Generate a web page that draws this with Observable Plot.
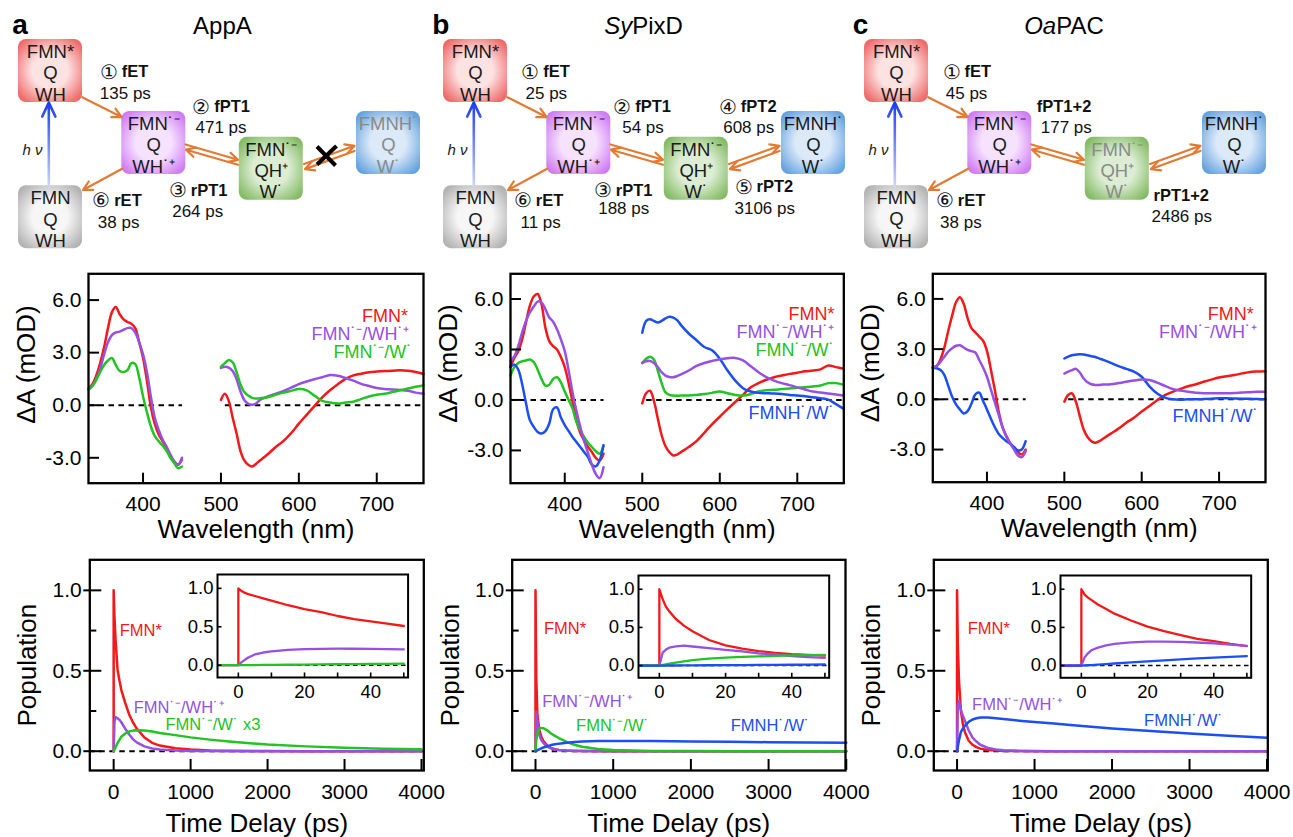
<!DOCTYPE html>
<html>
<head>
<meta charset="utf-8">
<script src="https://cdn.jsdelivr.net/npm/d3@7"></script>
<script src="https://cdn.jsdelivr.net/npm/@observablehq/plot@0.6"></script>
<style>
  html, body { margin: 0; padding: 0; background: #fff; }
  #fig { position: relative; width: 1293px; height: 837px; overflow: hidden; background: #fff; }
</style>
</head>
<body>
<div id="fig"></div>
<script>
const FONT = "'Liberation Sans', Arial, Helvetica, sans-serif";
const C = {red: "#f41818", purple: "#9650e6", green: "#22c322", blue: "#1b4ef5"};
const ORANGE = "#e47a32";

// ================= Spectra data (ΔA, mOD) =================
const wlUV = [330,335,340,345,350,355,360,365,370,375,380,385,390,395,400,405,410,415,420,425,430,435,440,445,450];
const wlVis = [500,505,510,515,520,525,530,535,540,545,550,560,570,580,590,600,610,620,630,640,650,660,670,680,690,700,710,720,730,740,750,760];
const specXTicks = [400, 500, 600, 700];
const specYTicks = [-3, 0, 3, 6];
const specZeroSegs = [[330, 450], [505, 760]];

// AppA
const redA_uv    = [0.95,1.2,1.7,2.4,3.3,4.4,5.3,5.6,5.2,4.9,4.75,4.65,4.4,3.6,2.7,1.4,-0.1,-1.05,-1.65,-2.05,-2.45,-2.9,-3.2,-3.4,-3.1];
const purpleA_uv = [0.9,1.1,1.5,2.1,2.9,3.6,4.0,4.15,4.2,4.3,4.4,4.4,4.15,3.6,2.9,1.9,0.5,-0.7,-1.4,-1.95,-2.35,-2.8,-3.2,-3.4,-3.0];
const greenA_uv  = [0.9,1.1,1.45,1.9,2.3,2.55,2.7,2.3,1.95,1.9,2.0,2.4,2.35,1.6,0.5,-0.4,-1.2,-1.75,-2.05,-2.3,-2.6,-3.0,-3.3,-3.6,-3.5];
const redA_vis    = [0.3,0.65,0.25,-0.7,-1.6,-2.6,-3.15,-3.4,-3.5,-3.35,-3.15,-2.8,-2.4,-2.05,-1.6,-1.05,-0.55,-0.05,0.45,0.85,1.2,1.5,1.7,1.8,1.88,1.92,1.95,1.97,2.0,1.97,1.9,1.78];
const purpleA_vis = [2.13,2.2,2.15,1.95,1.5,0.8,0.3,0.08,0.03,0.1,0.3,0.5,0.65,0.8,1.0,1.2,1.35,1.48,1.6,1.72,1.68,1.55,1.4,1.22,1.1,0.98,0.92,0.9,0.87,0.82,0.72,0.65];
const greenA_vis  = [2.2,2.4,2.58,2.45,1.9,1.2,0.75,0.55,0.42,0.38,0.4,0.46,0.6,0.72,0.82,0.92,0.85,0.55,0.25,0.15,0.1,0.15,0.2,0.35,0.5,0.6,0.65,0.75,0.85,0.95,1.05,1.12];

// SyPixD
const redB_uv    = [2.0,2.5,2.9,3.6,4.6,5.6,6.15,6.3,5.7,4.3,3.5,3.2,3.0,2.55,1.95,1.0,-0.1,-1.2,-1.95,-2.4,-2.8,-3.1,-3.45,-3.6,-3.2];
const purpleB_uv = [2.3,2.6,3.2,4.0,4.7,5.2,5.55,5.85,5.8,5.4,4.9,4.65,4.2,3.6,2.9,1.75,0.45,-0.65,-1.6,-2.45,-3.15,-3.85,-4.4,-4.65,-4.0];
const greenB_uv  = [1.45,1.95,2.2,2.3,2.35,2.4,2.25,1.8,1.25,0.85,0.9,1.25,1.35,1.05,0.5,0.0,-0.5,-1.3,-1.8,-2.2,-2.55,-2.8,-3.05,-3.2,-2.7];
const blueB_uv   = [1.95,2.1,1.8,0.95,-0.2,-1.2,-1.6,-1.9,-2.0,-1.85,-1.4,-0.55,-0.45,-1.05,-1.5,-1.85,-2.2,-2.5,-2.8,-3.1,-3.4,-3.85,-3.95,-3.6,-2.7];
const redB_vis    = [-0.2,0.4,0.55,-0.05,-1.1,-2.1,-2.75,-3.1,-3.3,-3.25,-3.1,-2.8,-2.45,-1.95,-1.45,-1.0,-0.55,-0.12,0.3,0.75,1.0,1.2,1.35,1.45,1.55,1.62,1.7,1.75,1.82,2.05,1.95,1.85];
const purpleB_vis = [2.2,2.3,2.32,2.2,1.95,1.65,1.45,1.36,1.35,1.42,1.52,1.75,2.02,2.2,2.32,2.42,2.48,2.5,2.35,2.0,1.65,1.36,1.15,1.0,0.88,0.75,0.62,0.5,0.44,0.38,0.32,0.26];
const greenB_vis  = [2.2,2.45,2.57,2.4,1.75,1.0,0.45,0.3,0.26,0.25,0.26,0.26,0.3,0.35,0.42,0.5,0.4,0.3,0.26,0.35,0.5,0.58,0.6,0.65,0.68,0.72,0.76,0.8,0.86,1.0,1.0,0.9];
const blueB_vis   = [4.0,4.7,4.8,4.7,4.6,4.7,4.85,4.95,4.9,4.75,4.45,3.95,3.55,3.15,2.95,2.45,1.75,1.15,0.7,0.5,0.42,0.4,0.38,0.35,0.3,0.26,0.22,0.16,0.1,0.02,-0.25,-0.53];

// OaPAC
const redC_uv    = [1.9,2.0,2.4,3.1,4.1,5.0,5.8,6.1,5.7,4.85,4.25,4.0,3.75,3.5,2.9,1.8,0.6,-0.7,-1.65,-2.2,-2.6,-2.9,-3.15,-3.3,-3.0];
const purpleC_uv = [1.9,2.0,2.25,2.55,2.85,3.05,3.2,3.23,3.1,2.95,2.88,2.8,2.35,1.9,1.35,0.6,-0.15,-0.9,-1.65,-2.2,-2.65,-3.0,-3.35,-3.45,-3.1];
const blueC_uv   = [1.9,1.85,1.75,1.45,0.8,0.15,-0.3,-0.6,-0.85,-0.7,-0.25,0.3,0.4,-0.1,-0.6,-1.15,-1.65,-2.05,-2.3,-2.5,-2.65,-2.85,-3.05,-3.0,-2.5];
const redC_vis    = [-0.14,0.26,0.35,-0.15,-1.0,-1.8,-2.25,-2.5,-2.6,-2.5,-2.35,-2.05,-1.75,-1.4,-1.1,-0.73,-0.4,-0.05,0.25,0.45,0.62,0.78,0.9,1.05,1.18,1.3,1.38,1.45,1.55,1.64,1.66,1.68];
const purpleC_vis = [1.54,1.65,1.75,1.82,1.6,1.25,1.02,0.9,0.86,0.86,0.88,0.9,0.97,1.05,1.12,1.18,1.15,1.0,0.8,0.62,0.52,0.45,0.4,0.37,0.36,0.36,0.36,0.38,0.41,0.43,0.45,0.46];
const blueC_vis   = [2.44,2.55,2.63,2.67,2.7,2.68,2.63,2.58,2.53,2.45,2.36,2.18,1.98,1.82,1.66,1.35,0.78,0.35,0.1,0.0,-0.02,0.0,0.0,0.02,0.04,0.06,0.06,0.05,0.04,0.03,0.02,0.0];

// ================= Population data =================
const tMain  = [0,0,10,25,50,75,100,150,200,250,300,400,500,600,800,1000,1250,1500,2000,2500,3000,3500,4000];
const tInset = [-6,0,0,1,2,3,5,7.5,10,15,20,25,30,35,40,45,50];
const popXTicks = [0, 1000, 2000, 3000, 4000];
const popYMajor = [0, 0.5, 1];
const popYMinor = [0.25, 0.75];
const insXTicks = [0, 10, 20, 30, 40, 50];
const insXLabels = [0, 20, 40];
const insYTicks = [0, 0.5, 1];

const popA_red    = [0,1,0.84,0.69,0.51,0.44,0.38,0.3,0.23,0.18,0.14,0.085,0.052,0.035,0.018,0.01,0.005,0.003,0.001,0,0,0,0];
const popA_purple = [0,0,0.18,0.213,0.205,0.195,0.18,0.14,0.105,0.075,0.055,0.03,0.017,0.011,0.005,0.002,0.001,0,0,0,0,0,0];
const popA_green3 = [0,0,0.009,0.025,0.05,0.07,0.09,0.11,0.122,0.128,0.13,0.128,0.123,0.113,0.1,0.086,0.072,0.06,0.041,0.03,0.021,0.016,0.012];
const popB_red    = [0,1,0.45,0.222,0.13,0.09,0.065,0.035,0.02,0.012,0.008,0.004,0.002,0.001,0,0,0,0,0,0,0,0,0];
const popB_purple = [0,0,0.245,0.18,0.1,0.07,0.052,0.028,0.017,0.011,0.008,0.004,0.003,0.002,0.001,0,0,0,0,0,0,0,0];
const popB_green  = [0,0,0.07,0.113,0.14,0.145,0.143,0.13,0.11,0.095,0.082,0.058,0.04,0.028,0.014,0.008,0.004,0.002,0.001,0,0,0,0];
const popB_blue   = [0,0,0.002,0.006,0.012,0.018,0.023,0.031,0.038,0.043,0.047,0.052,0.057,0.06,0.063,0.064,0.064,0.063,0.061,0.059,0.056,0.054,0.052];
const popC_red    = [0,1,0.66,0.44,0.25,0.17,0.12,0.065,0.04,0.025,0.016,0.007,0.004,0.002,0.001,0,0,0,0,0,0,0,0];
const popC_purple = [0,0,0.285,0.313,0.255,0.22,0.19,0.13,0.085,0.06,0.04,0.02,0.01,0.006,0.002,0.001,0,0,0,0,0,0,0];
const popC_blue   = [0,0,0.027,0.069,0.12,0.14,0.158,0.182,0.197,0.205,0.21,0.21,0.205,0.2,0.19,0.182,0.172,0.162,0.141,0.125,0.11,0.096,0.083];

const insA_red    = [0,0,1,0.965,0.94,0.925,0.9,0.87,0.84,0.78,0.73,0.69,0.64,0.6,0.57,0.54,0.51];
const insA_purple = [0,0,0,0.04,0.07,0.1,0.14,0.165,0.18,0.2,0.21,0.213,0.215,0.214,0.212,0.208,0.205];
const insA_green  = [0,0,0,0.0005,0.001,0.0015,0.002,0.003,0.004,0.006,0.008,0.01,0.012,0.014,0.016,0.018,0.02];
const insB_red    = [0,0,1,0.87,0.77,0.71,0.61,0.52,0.45,0.335,0.265,0.222,0.19,0.165,0.15,0.14,0.13];
const insB_purple = [0,0,0,0.17,0.21,0.235,0.252,0.26,0.25,0.228,0.205,0.185,0.16,0.145,0.125,0.112,0.1];
const insB_green  = [0,0,0,0.008,0.017,0.026,0.04,0.056,0.07,0.09,0.104,0.113,0.12,0.127,0.133,0.137,0.14];
const insB_blue   = [0,0,0,0,0,0.001,0.001,0.002,0.002,0.004,0.005,0.007,0.008,0.01,0.011,0.013,0.014];
const insC_red    = [0,0,1,0.93,0.89,0.86,0.8,0.74,0.68,0.59,0.51,0.45,0.4,0.35,0.32,0.285,0.255];
const insC_purple = [0,0,0,0.11,0.16,0.2,0.235,0.265,0.285,0.305,0.314,0.315,0.31,0.302,0.29,0.275,0.258];
const insC_blue   = [0,0,0,0.002,0.004,0.006,0.012,0.019,0.027,0.042,0.056,0.069,0.082,0.093,0.104,0.115,0.125];

// ================= Text labels =================
const L_FMNS = "FMN*", L_PUR = "FMN˙⁻/WH˙⁺", L_GRN = "FMN˙⁻/W˙", L_BLU = "FMNH˙/W˙";
const specLabelsA = [{x:740,y:5.1,t:L_FMNS,c:C.red},{x:742,y:4.06,t:L_PUR,c:C.purple},{x:745.7,y:3.02,t:L_GRN,c:C.green}];
const specLabelsB = [{x:748,y:5.11,t:L_FMNS,c:C.red},{x:748,y:4.02,t:L_PUR,c:C.purple},{x:748,y:2.93,t:L_GRN,c:C.green},{x:748,y:-0.8,t:L_BLU,c:C.blue}];
const specLabelsC = [{x:744.7,y:5.11,t:L_FMNS,c:C.red},{x:749,y:4.02,t:L_PUR,c:C.purple},{x:751,y:-1.03,t:L_BLU,c:C.blue}];
const popLabelsA = [{x:78,y:0.75,t:L_FMNS,c:C.red},{x:261,y:0.27,t:L_PUR,c:C.purple},{x:674,y:0.166,t:L_GRN + " x3",c:C.green}];
const popLabelsB = [{x:109,y:0.76,t:L_FMNS,c:C.red},{x:87,y:0.305,t:L_PUR,c:C.purple},{x:522,y:0.16,t:L_GRN,c:C.green},{x:2513,y:0.156,t:L_BLU,c:C.blue}];
const popLabelsC = [{x:138,y:0.76,t:L_FMNS,c:C.red},{x:194,y:0.29,t:L_PUR,c:C.purple},{x:2414,y:0.19,t:L_BLU,c:C.blue}];

// ================= Scheme (diagram) data, panel-relative units =================
const schemeNodes = [
  {key:"red",    cx:50,    cy:70.5,  lines:"FMN*\nQ\nWH"},
  {key:"purple", cx:153.3, cy:142.5, lines:"FMN˙⁻\nQ\nWH˙⁺"},
  {key:"green",  cx:270.8, cy:168.3, lines:"FMN˙⁻\nQH⁺\nW˙"},
  {key:"blue",   cx:388,   cy:142.5, lines:"FMNH˙\nQ\nW˙"},
  {key:"gray",   cx:50,    cy:216.7, lines:"FMN\nQ\nWH"}
];
const boxGradients = [["red","#fde2e2","#ef6a6a"],["purple","#f6e2fd","#cf7cf4"],["green","#dcedd3","#84bb64"],["blue","#dbe9f9","#66a3de"],["gray","#f6f6f6","#b3b3b3"]];
const schemeArrows = [
  {x1:81.7, y1:96.7,  x2:121,   y2:116.5},
  {x1:121.7,y1:168.3, x2:82.5,  y2:189.5},
  {x1:185,  y1:144,   x2:237.5, y2:159.3},
  {x1:237.5,y1:164.3, x2:185.5, y2:149.2},
  {x1:303.5,y1:163.5, x2:354,   y2:145.3},
  {x1:354,  y1:150.5, x2:304.5, y2:168.6}
];
const hvArrow = [{x1:48.3, y1:186, x2:48.3, y2:102}];
const crossMark = [{x1:316.5,y1:146,x2:335,y2:165},{x1:316.5,y1:164,x2:336,y2:145.5}];
const schemeLabelsA = [
  {x:99.3, y:71.7, n:"①", name:"fET",  tx:99.3,  ty:93.3,  time:"135 ps"},
  {x:191.7,y:106.7,n:"②", name:"fPT1", tx:195,   ty:126.7, time:"471 ps"},
  {x:168.3,y:190,  n:"③", name:"rPT1", tx:171.7, ty:210.7, time:"264 ps"},
  {x:91.7, y:200,  n:"⑥", name:"rET",  tx:97.3,  ty:221.7, time:"38 ps"}
];
const schemeLabelsB = [
  {x:95.7, y:71.7, n:"①", name:"fET",  tx:100,   ty:93.3,  time:"25 ps"},
  {x:187.7,y:106.7,n:"②", name:"fPT1", tx:196.7, ty:127.3, time:"54 ps"},
  {x:293.3,y:106.7,n:"④", name:"fPT2", tx:297.7, ty:127.3, time:"608 ps"},
  {x:168.3,y:190,  n:"③", name:"rPT1", tx:172.7, ty:208.3, time:"188 ps"},
  {x:309,  y:186.7,n:"⑤", name:"rPT2", tx:309,   ty:208.3, time:"3106 ps"},
  {x:88.3, y:200,  n:"⑥", name:"rET",  tx:95,    ty:221.7, time:"11 ps"}
];
const schemeLabelsC = [
  {x:96,   y:71.7, n:"①", name:"fET",    tx:99.3,  ty:93.3,  time:"45 ps"},
  {x:190.3,y:106.7,n:"",  name:"fPT1+2", tx:194.3, ty:127.3, time:"177 ps"},
  {x:307,  y:195,  n:"",  name:"rPT1+2", tx:305,   ty:216,   time:"2486 ps"},
  {x:89.3, y:200,  n:"⑥", name:"rET",    tx:93.6,  ty:221.7, time:"38 ps"}
];

// ================= Rendering =================
const fig = document.getElementById("fig");
function put(svg, left, top) {
  svg.style.position = "absolute";
  svg.style.left = left + "px";
  svg.style.top = top + "px";
  fig.appendChild(svg);
}
const baseStyle = {background: "transparent", overflow: "visible", fontFamily: FONT, maxWidth: "none", color: "#000"};

function spectraPlot(P) {
  const top = 250, height = 300, mT = 23.3;
  const fw = P.width - P.mL - P.mR, fh = height - mT - P.mB;
  const marks = [
    Plot.link(specZeroSegs, {x1: d => d[0], x2: d => d[1], y1: () => 0, y2: () => 0, stroke: "#000", strokeWidth: 2, strokeDasharray: "5.5,4.5"})
  ];
  for (const s of P.series) {
    const rows = wlUV.map((w, i) => ({x: w, y: s.uv[i], seg: 0}))
      .concat(wlVis.map((w, i) => ({x: w, y: s.vis[i], seg: 1})));
    marks.push(Plot.line(rows, {x: "x", y: "y", z: "seg", stroke: s.color, strokeWidth: 2.5, curve: "catmull-rom"}));
  }
  marks.push(
    Plot.ruleX(specXTicks, {x: d => d, insetTop: fh - 10, stroke: "#000", strokeWidth: 2}),
    Plot.ruleY(specYTicks, {y: d => d, insetRight: fw - 11, stroke: "#000", strokeWidth: 2}),
    Plot.frame({stroke: "#000", strokeWidth: 2.3}),
    Plot.text(specXTicks, {x: d => d, text: d => String(d), frameAnchor: "bottom", lineAnchor: "middle", dy: 21, fontSize: 21, fill: "#000"}),
    Plot.text(specYTicks, {y: d => d, text: d => d.toFixed(1), frameAnchor: "left", textAnchor: "end", lineAnchor: "middle", dx: -7, fontSize: 21, fill: "#000"}),
    Plot.text(["Wavelength (nm)"], {text: d => d, frameAnchor: "bottom", lineAnchor: "middle", textAnchor: "middle", dy: 46, fontSize: 26, fill: "#000"}),
    Plot.text(["ΔA (mOD)"], {text: d => d, frameAnchor: "left", textAnchor: "middle", lineAnchor: "middle", rotate: -90, dx: -62, dy: P.ylabDy, fontSize: 26, fill: "#000"})
  );
  for (const l of P.labels) {
    marks.push(Plot.text([l], {x: d => d.x, y: d => d.y, text: d => d.t, fill: l.c, textAnchor: "end", fontSize: 18}));
  }
  const svg = Plot.plot({
    width: P.width, height, marginLeft: P.mL, marginRight: P.mR, marginTop: mT, marginBottom: P.mB,
    x: {domain: [330, 760], axis: null},
    y: {domain: P.yDomain, axis: null},
    style: baseStyle,
    marks
  });
  put(svg, P.left, top);
}

function popPlot(P) {
  const top = 550, height = 287, mT = 9.3, mB = 67;
  const fw = P.width - P.mL - P.mR, fh = height - mT - mB;
  const marks = [
    Plot.ruleY([0], {y: d => d, stroke: "#000", strokeWidth: 2, strokeDasharray: "5.5,4.5"})
  ];
  for (const s of P.series) {
    marks.push(Plot.line(tMain.map((t, i) => ({t, v: s.v[i]})), {x: "t", y: "v", stroke: s.color, strokeWidth: 2.5}));
  }
  marks.push(
    Plot.ruleX(popXTicks, {x: d => d, insetTop: fh - 11, stroke: "#000", strokeWidth: 2}),
    Plot.ruleY(popYMajor, {y: d => d, insetLeft: -6, insetRight: fw - 12, stroke: "#000", strokeWidth: 2}),
    Plot.ruleY(popYMinor, {y: d => d, insetRight: fw - 7, stroke: "#000", strokeWidth: 2}),
    Plot.frame({stroke: "#000", strokeWidth: 2.3}),
    Plot.text(popXTicks, {x: d => d, text: d => String(d), frameAnchor: "bottom", lineAnchor: "middle", dy: 21.5, fontSize: 21, fill: "#000"}),
    Plot.text(popYMajor, {y: d => d, text: d => d.toFixed(1), frameAnchor: "left", textAnchor: "end", lineAnchor: "middle", dx: -8, fontSize: 21, fill: "#000"}),
    Plot.text(["Time Delay (ps)"], {text: d => d, frameAnchor: "bottom", lineAnchor: "middle", textAnchor: "middle", dy: 53.5, fontSize: 26, fill: "#000"}),
    Plot.text(["Population"], {text: d => d, frameAnchor: "left", textAnchor: "middle", lineAnchor: "middle", rotate: -90, dx: -62, fontSize: 26, fill: "#000"})
  );
  for (const l of P.labels) {
    marks.push(Plot.text([l], {x: d => d.x, y: d => d.y, text: d => d.t, fill: l.c, textAnchor: "start", fontSize: 16.5}));
  }
  const svg = Plot.plot({
    width: P.width, height, marginLeft: P.mL, marginRight: P.mR, marginTop: mT, marginBottom: mB,
    x: {domain: P.xDomain, axis: null},
    y: {domain: [-0.12, 1.19], axis: null},
    style: baseStyle,
    marks
  });
  put(svg, P.left, top);
}

function insetPlot(P) {
  const mL = 45, mR = 5, mT = 6, mB = 30;
  const width = P.fr - P.fl + mL + mR, height = P.fb - P.ft + mT + mB;
  const fw = P.fr - P.fl, fh = P.fb - P.ft;
  const marks = [
    Plot.frame({fill: "white", stroke: "none"}),
    Plot.ruleY([0], {y: d => d, stroke: "#000", strokeWidth: 1.6, strokeDasharray: "4.5,3.5"})
  ];
  for (const s of P.series) {
    marks.push(Plot.line(tInset.map((t, i) => ({t, v: s.v[i]})), {x: "t", y: "v", stroke: s.color, strokeWidth: 2.3}));
  }
  marks.push(
    Plot.ruleX(insXTicks, {x: d => d, insetTop: fh - 4.5, stroke: "#000", strokeWidth: 1.6}),
    Plot.ruleY(insYTicks, {y: d => d, insetRight: fw - 4.5, stroke: "#000", strokeWidth: 1.6}),
    Plot.frame({stroke: "#000", strokeWidth: 2}),
    Plot.text(insXLabels, {x: d => d, text: d => String(d), frameAnchor: "bottom", lineAnchor: "middle", dy: 14.5, fontSize: 18.5, fill: "#000"}),
    Plot.text(insYTicks, {y: d => d, text: d => d.toFixed(1), frameAnchor: "left", textAnchor: "end", lineAnchor: "middle", dx: -4, fontSize: 18.5, fill: "#000"})
  );
  const svg = Plot.plot({
    width, height, marginLeft: mL, marginRight: mR, marginTop: mT, marginBottom: mB,
    x: {domain: [-6.3, 51.3], axis: null},
    y: {domain: [-0.16, 1.18], axis: null},
    style: baseStyle,
    marks
  });
  put(svg, P.fl - mL, P.ft - mT);
}

function schemePlot(S) {
  const id = "sch" + S.letter;
  const H = 260;
  const marks = [];
  for (const n of schemeNodes) {
    marks.push(Plot.rect([n], {x1: d => d.cx - 32, x2: d => d.cx + 32, y1: d => d.cy - 31.5, y2: d => d.cy + 31.5, rx: 8, fill: `url(#${id}-${n.key})`}));
    marks.push(Plot.text([n], {x: d => d.cx, y: d => d.cy + 1.5, text: d => d.lines, lineHeight: 1.15, fontSize: 18.5,
      fill: S.dim.includes(n.key) ? "#8a8a8a" : "#1a1a1a"}));
  }
  marks.push(
    Plot.arrow(schemeArrows, {x1: "x1", y1: "y1", x2: "x2", y2: "y2", stroke: ORANGE, strokeWidth: 2.2, headLength: 7, headAngle: 55}),
    Plot.arrow(hvArrow, {x1: "x1", y1: "y1", x2: "x2", y2: "y2", stroke: `url(#${id}-hv)`, strokeWidth: 2.6, headLength: 9, headAngle: 50}),
    Plot.text(["h ν"], {text: d => d, x: () => 32, y: () => 150, fontStyle: "italic", fontSize: 15, fill: "#222"})
  );
  if (S.cross) marks.push(Plot.link(crossMark, {x1: "x1", y1: "y1", x2: "x2", y2: "y2", stroke: "#000", strokeWidth: 4}));
  marks.push(
    Plot.text(S.labels.filter(d => d.n), {x: "x", y: "y", text: "n", textAnchor: "start", fontSize: 20, fill: "#111"}),
    Plot.text(S.labels, {x: d => d.x + (d.n ? 22 : 0), y: "y", text: "name", textAnchor: "start", fontSize: 16.5, fontWeight: "bold", fill: "#111"}),
    Plot.text(S.labels, {x: "tx", y: "ty", text: "time", textAnchor: "start", fontSize: 17, fill: "#111"})
  );
  marks.push(
    Plot.text([S.letterX], {x: d => d, y: () => 33.3, text: () => S.letter, textAnchor: "start", lineAnchor: "bottom", fontSize: 28, fontWeight: "bold", fill: "#000"}),
    Plot.text([S.title], {x: d => d.split, y: () => 33.3, text: d => d.it, textAnchor: "end", lineAnchor: "bottom", fontSize: 24, fontStyle: "italic", fill: "#000"}),
    Plot.text([S.title], {x: d => d.split, y: () => 33.3, text: d => d.ro, textAnchor: "start", lineAnchor: "bottom", fontSize: 24, fill: "#000"})
  );
  const svg = Plot.plot({
    width: S.width, height: H, margin: 0,
    x: {domain: [0, S.width], range: [0, S.width], axis: null},
    y: {domain: [0, H], range: [0, H], axis: null},
    style: baseStyle,
    marks
  });
  const defs = d3.create("svg:defs");
  for (const [k, c0, c1] of boxGradients) {
    const g = defs.append("radialGradient").attr("id", `${id}-${k}`).attr("cx", "50%").attr("cy", "50%").attr("r", "62%");
    g.append("stop").attr("offset", "0%").attr("stop-color", c0);
    g.append("stop").attr("offset", "45%").attr("stop-color", c0);
    g.append("stop").attr("offset", "100%").attr("stop-color", c1);
  }
  const lg = defs.append("linearGradient").attr("id", `${id}-hv`).attr("x1", 0).attr("y1", 1).attr("x2", 0).attr("y2", 0);
  lg.append("stop").attr("offset", "0%").attr("stop-color", "#cfd5fb");
  lg.append("stop").attr("offset", "100%").attr("stop-color", "#1d3cf0");
  svg.insertBefore(defs.node(), svg.firstChild);
  put(svg, S.left, 0);
}

// ---- schemes ----
schemePlot({letter: "a", letterX: 11.7, left: 0, width: 430, title: {split: 192.6, it: "", ro: "AppA"}, dim: ["blue"], cross: true, labels: schemeLabelsA});
schemePlot({letter: "b", letterX: 6.7, left: 425, width: 430, title: {split: 206.7, it: "Sy", ro: "PixD"}, dim: [], cross: false, labels: schemeLabelsB});
schemePlot({letter: "c", letterX: 6.3, left: 845.7, width: 447.3, title: {split: 209.7, it: "Oa", ro: "PAC"}, dim: ["green"], cross: false, labels: schemeLabelsC});

// ---- spectra ----
spectraPlot({left: 0, width: 430, mL: 88, mR: 7, mB: 67.3, yDomain: [-4.45, 7.5], ylabDy: -14, labels: specLabelsA,
  series: [{uv: redA_uv, vis: redA_vis, color: C.red}, {uv: purpleA_uv, vis: purpleA_vis, color: C.purple}, {uv: greenA_uv, vis: greenA_vis, color: C.green}]});
spectraPlot({left: 430, width: 430, mL: 80, mR: 16.7, mB: 67.3, yDomain: [-4.95, 7.5], ylabDy: -15, labels: specLabelsB,
  series: [{uv: redB_uv, vis: redB_vis, color: C.red}, {uv: greenB_uv, vis: greenB_vis, color: C.green}, {uv: blueB_uv, vis: blueB_vis, color: C.blue}, {uv: purpleB_uv, vis: purpleB_vis, color: C.purple}]});
spectraPlot({left: 860, width: 433, mL: 72.3, mR: 28, mB: 68.3, yDomain: [-4.95, 7.5], ylabDy: -15, labels: specLabelsC,
  series: [{uv: redC_uv, vis: redC_vis, color: C.red}, {uv: blueC_uv, vis: blueC_vis, color: C.blue}, {uv: purpleC_uv, vis: purpleC_vis, color: C.purple}]});

// ---- population kinetics ----
popPlot({left: 0, width: 430, mL: 89.3, mR: 6.7, xDomain: [-310, 4030], labels: popLabelsA,
  series: [{v: popA_red, color: C.red}, {v: popA_purple, color: C.purple}, {v: popA_green3, color: C.green}]});
popPlot({left: 430, width: 430, mL: 81.7, mR: 15, xDomain: [-300, 3990], labels: popLabelsB,
  series: [{v: popB_red, color: C.red}, {v: popB_purple, color: C.purple}, {v: popB_green, color: C.green}, {v: popB_blue, color: C.blue}]});
popPlot({left: 860, width: 433, mL: 73.3, mR: 25.7, xDomain: [-300, 4010], labels: popLabelsC,
  series: [{v: popC_red, color: C.red}, {v: popC_purple, color: C.purple}, {v: popC_blue, color: C.blue}]});

insetPlot({fl: 216.7, fr: 407.3, ft: 574.3, fb: 677.3,
  series: [{v: insA_red, color: C.red}, {v: insA_purple, color: C.purple}, {v: insA_green, color: C.green}]});
insetPlot({fl: 638.3, fr: 829, ft: 575, fb: 677.3,
  series: [{v: insB_red, color: C.red}, {v: insB_purple, color: C.purple}, {v: insB_green, color: C.green}, {v: insB_blue, color: C.blue}]});
insetPlot({fl: 1060, fr: 1250.7, ft: 575, fb: 677.3,
  series: [{v: insC_red, color: C.red}, {v: insC_purple, color: C.purple}, {v: insC_blue, color: C.blue}]});
</script>
</body>
</html>
